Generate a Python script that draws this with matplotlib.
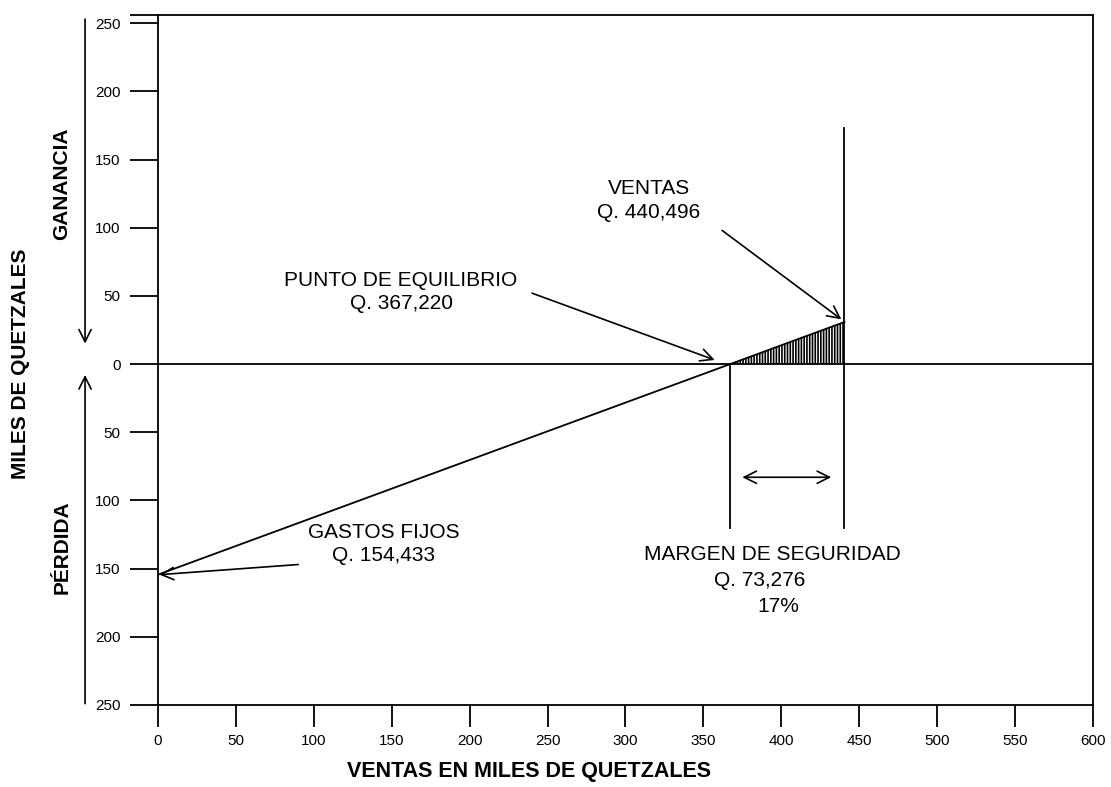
import numpy
from matplotlib import pyplot as plt
import matplotlib

#fonts: Arial-like everywhere
matplotlib.rcParams['font.family'] = ['Liberation Sans', 'DejaVu Sans']

#break-even data, thousands of quetzales
gastos_fijos = 154.433
punto_equilibrio = 367.220
ventas = 440.496
margen_seguridad = 73.276
margen_pct = 17

x_ticks = [0, 50, 100, 150, 200, 250, 300, 350, 400, 450, 500, 550, 600]
y_ticks = [-250, -200, -150, -100, -50, 0, 50, 100, 150, 200, 250]
y_ticklabels = [str(abs(v)) for v in y_ticks]

#profit/loss line: starts at -fixed costs, crosses zero at break-even
contrib_ratio = gastos_fijos/punto_equilibrio
line_x = numpy.array([0, ventas])
line_y = -gastos_fijos + contrib_ratio*line_x

fig = plt.figure(figsize=(11.11, 7.87), dpi=100)
ax = fig.add_axes([0.1422, 0.1042, 0.8416, 0.8768])

lw = 1.3
ax.plot(line_x, line_y, color='black', lw=lw)
ax.axhline(0, color='black', lw=lw)

#vertical markers at break-even and sales
ax.plot([punto_equilibrio, punto_equilibrio], [0, -120], color='black', lw=lw)
ax.plot([ventas, ventas], [173, -120], color='black', lw=lw)

#hatched profit triangle
hx = numpy.array([punto_equilibrio, ventas])
hy = -gastos_fijos + contrib_ratio*hx
matplotlib.rcParams['hatch.linewidth'] = 1.2
ax.fill_between(hx, 0, hy, facecolor='none', edgecolor='black', hatch='||||||', lw=0)

ax.set_xlim(0, 600)
ax.set_ylim(-250, 256)
ax.set_xticks(x_ticks)
ax.set_yticks(y_ticks)
ax.set_yticklabels(y_ticklabels)
ax.set_yticks([256], minor=True)
ax.tick_params(axis='y', which='both', direction='out', length=20, width=lw, labelsize=11, pad=7)
ax.tick_params(axis='x', direction='out', length=16, width=lw, labelsize=11, pad=5)
for sp in ax.spines.values():
	sp.set_linewidth(lw)

ax.set_xlabel("VENTAS EN MILES DE QUETZALES", fontsize=15.5, fontweight='bold')
ax.xaxis.set_label_coords(0.397, -0.081)

#left side labels, outside the axes
ax.text(-0.147, 0, "MILES DE QUETZALES", transform=ax.get_yaxis_transform(), rotation=90,
	ha='center', va='center', fontsize=15, fontweight='bold')
ax.text(-0.103, 132, "GANANCIA", transform=ax.get_yaxis_transform(), rotation=90,
	ha='center', va='center', fontsize=15, fontweight='bold')
ax.text(-0.103, -134, "PÉRDIDA", transform=ax.get_yaxis_transform(), rotation=90,
	ha='center', va='center', fontsize=15, fontweight='bold')

arrow = dict(arrowstyle='->', color='black', lw=1.2, mutation_scale=22, shrinkA=0, shrinkB=0)
ax.annotate("", xy=(-0.078, 15), xytext=(-0.078, 253), xycoords=ax.get_yaxis_transform(),
	textcoords=ax.get_yaxis_transform(), arrowprops=arrow, annotation_clip=False)
ax.annotate("", xy=(-0.078, -8), xytext=(-0.078, -249), xycoords=ax.get_yaxis_transform(),
	textcoords=ax.get_yaxis_transform(), arrowprops=arrow, annotation_clip=False)

#annotations
ax.text(145, -132, "GASTOS FIJOS\nQ. 154,433", ha='center', va='center', fontsize=15, linespacing=1.3)
ax.annotate("", xy=(1, -gastos_fijos), xytext=(90, -147), arrowprops=arrow)

ax.text(156, 53, "PUNTO DE EQUILIBRIO\nQ. 367,220", ha='center', va='center', fontsize=15, linespacing=1.3)
ax.annotate("", xy=(punto_equilibrio - 10, 3), xytext=(240, 52), arrowprops=arrow)

ax.text(315, 120, "VENTAS\nQ. 440,496", ha='center', va='center', fontsize=15, linespacing=1.3)
ax.annotate("", xy=(ventas - 2, line_y[-1] + 2), xytext=(362, 98), arrowprops=arrow)

ax.annotate("", xy=(432, -83), xytext=(375, -83),
	arrowprops=dict(arrowstyle='<->', color='black', lw=1.2, mutation_scale=22, shrinkA=0, shrinkB=0))
ax.text(394, -140, "MARGEN DE SEGURIDAD", ha='center', va='center', fontsize=15)
ax.text(386, -159, "Q. 73,276", ha='center', va='center', fontsize=15)
ax.text(398, -178, "%i%%" % margen_pct, ha='center', va='center', fontsize=15)

plt.savefig("out.png", dpi=100)
